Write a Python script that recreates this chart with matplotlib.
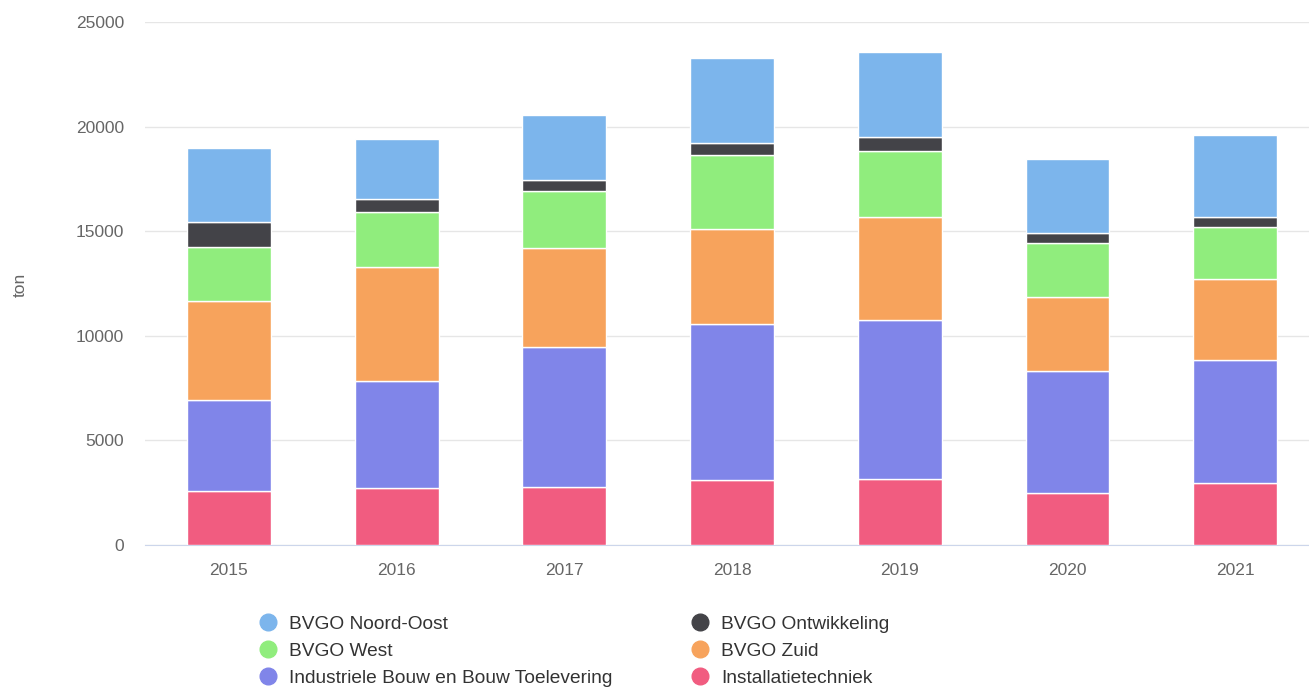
import numpy as np
import matplotlib.pyplot as plt
from matplotlib.lines import Line2D

plt.rcParams['font.family'] = ['Liberation Sans', 'DejaVu Sans']

# Data (ton per year)
years = ['2015', '2016', '2017', '2018', '2019', '2020', '2021']
installatie = [2580, 2740, 2760, 3110, 3170, 2500, 2980]
industriele = [4350, 5115, 6720, 7440, 7590, 5830, 5865]
zuid = [4750, 5420, 4700, 4555, 4940, 3540, 3870]
west = [2550, 2660, 2750, 3540, 3140, 2580, 2470]
ontwikkeling = [1220, 610, 510, 590, 650, 450, 480]
noord_oost = [3510, 2850, 3110, 4035, 4090, 3540, 3930]

# bottom to top
series = [
    ('Installatietechniek', installatie, '#f15c80'),
    ('Industriele Bouw en Bouw Toelevering', industriele, '#8085e9'),
    ('BVGO Zuid', zuid, '#f7a35c'),
    ('BVGO West', west, '#90ed7d'),
    ('BVGO Ontwikkeling', ontwikkeling, '#434348'),
    ('BVGO Noord-Oost', noord_oost, '#7cb5ec'),
]

W, H = 1309, 689
fig = plt.figure(figsize=(W / 100, H / 100), dpi=100)
ax = fig.add_axes([145 / W, (H - 545) / H, (1309 - 145) / W, (545 - 22) / H])

x = np.arange(len(years))
bottom = np.zeros(len(years))
for name, vals, color in series:
    ax.bar(x, vals, 0.5, bottom=bottom, color=color, edgecolor='white',
           linewidth=1, label=name, zorder=3)
    bottom += np.array(vals)

ax.set_xlim(-0.5, 6.44)
ax.set_ylim(0, 25000)
ax.set_yticks(np.arange(0, 25001, 5000))
ax.set_xticks(x)
ax.set_xticklabels(years)
ax.grid(axis='y', color='#e6e6e6', linewidth=1, zorder=0)
for s in ['top', 'right', 'left']:
    ax.spines[s].set_visible(False)
ax.spines['bottom'].set_color('#ccd6eb')
ax.tick_params(axis='both', length=0, labelsize=12.5, labelcolor='#666666')
ax.tick_params(axis='y', pad=15)
ax.tick_params(axis='x', pad=13)
ax.set_ylabel('ton', fontsize=12.5, color='#666666')
ax.yaxis.set_label_coords(-0.1004, 0.497)

# legend, row-wise like the original
order = ['BVGO Noord-Oost', 'BVGO West', 'Industriele Bouw en Bouw Toelevering',
         'BVGO Ontwikkeling', 'BVGO Zuid', 'Installatietechniek']
colors = {n: c for n, _, c in series}
handles = [Line2D([], [], marker='o', linestyle='', markersize=12,
                  markerfacecolor=colors[n], markeredgecolor=colors[n]) for n in order]
fig.legend(handles, order, loc='upper left', bbox_to_anchor=(247 / W, 1 - 606 / H),
           ncol=2, frameon=False, fontsize=13.8, labelcolor='#333333',
           handletextpad=0.5, columnspacing=3.95, labelspacing=0.5, borderpad=0,
           handlelength=1.2)

fig.savefig('out.png', dpi=100)
